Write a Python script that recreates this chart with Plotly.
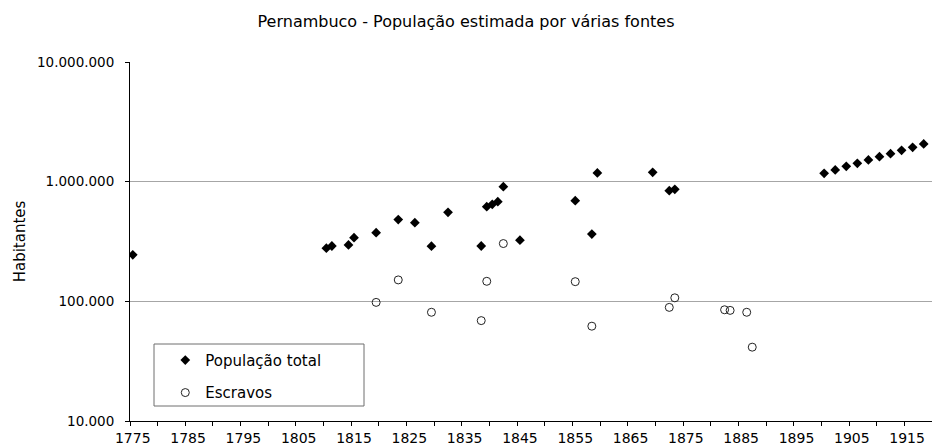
import plotly.graph_objects as go

# Data
pop_years = [1775, 1810, 1811, 1814, 1815, 1819, 1823, 1826, 1829, 1832, 1838, 1839,
             1840, 1841, 1842, 1845, 1855, 1858, 1859, 1869, 1872, 1873,
             1900, 1902, 1904, 1906, 1908, 1910, 1912, 1914, 1916, 1918]
pop_values = [245000, 278000, 290000, 296000, 340000, 375000, 482000, 454000, 289000, 555000,
              290000, 618000, 647000, 681000, 908000, 324000, 693000, 365000, 1182000,
              1198000, 841000, 864000,
              1175000, 1253000, 1345000, 1425000, 1518000, 1618000, 1714000, 1829000,
              1935000, 2065000]

slave_years = [1819, 1823, 1829, 1838, 1839, 1842, 1855, 1858, 1872, 1873, 1882, 1883, 1886, 1887]
slave_values = [98000, 151000, 81000, 69000, 147000, 304000, 146000, 62000, 89000, 107000,
                85000, 84000, 81000, 41400]

x_tick_vals = list(range(1775, 1916, 10))
x_tick_text = [str(v) for v in x_tick_vals]
y_tick_vals = [10000, 100000, 1000000, 10000000]
y_tick_text = ["10.000", "100.000", "1.000.000", "10.000.000"]

FONT = "DejaVu Sans"

fig = go.Figure()
fig.add_trace(go.Scatter(
    x=pop_years, y=pop_values, mode="markers", name="População total",
    legendgroup="a",
    marker=dict(symbol="diamond", size=7.5, color="black", line=dict(width=0)),
))
fig.add_trace(go.Scatter(
    x=slave_years, y=slave_values, mode="markers", name="Escravos",
    legendgroup="b",
    marker=dict(symbol="circle-open", size=8, color="#222222", line=dict(width=1)),
))

fig.update_layout(
    width=932, height=445,
    margin=dict(l=130, r=0, t=62, b=24, autoexpand=False),
    paper_bgcolor="white", plot_bgcolor="white",
    font=dict(family=FONT, color="black", size=14),
    title=dict(text="Pernambuco - População estimada por várias fontes",
               x=0.5, xanchor="center", y=1 - 21 / 445, yanchor="middle",
               font=dict(family=FONT, size=16, color="black")),
    showlegend=True,
    legend=dict(x=0.044, y=0.215, xanchor="left", yanchor="top",
                bgcolor="rgba(0,0,0,0)", borderwidth=0,
                traceorder="grouped", tracegroupgap=10,
                font=dict(family=FONT, size=15, color="black")),
    shapes=[dict(type="rect", xref="paper", yref="paper",
                 x0=(154 - 130) / 802, x1=(364 - 130) / 802,
                 y0=(421 - 406) / 359, y1=(421 - 344) / 359,
                 line=dict(color="#6e6e6e", width=1), fillcolor="rgba(0,0,0,0)")],
)

fig.update_xaxes(
    range=[1774.5, 1919.5], tickmode="array", tickvals=x_tick_vals, ticktext=x_tick_text,
    ticks="", showgrid=False, zeroline=False,
    showline=True, linecolor="black", linewidth=1,
    tickfont=dict(family=FONT, size=14, color="black"),
    ticklabelstandoff=4,
    minor=dict(tick0=1774.5, dtick=5, ticks="outside", ticklen=4,
               tickcolor="black", tickwidth=1, showgrid=False),
    automargin=False,
)
fig.update_yaxes(
    type="log", range=[4, 7], tickmode="array", tickvals=y_tick_vals, ticktext=y_tick_text,
    ticks="outside", ticklen=4, tickcolor="black",
    showgrid=True, gridcolor="#a6a6a6", gridwidth=1, zeroline=False,
    showline=True, linecolor="black", linewidth=1,
    tickfont=dict(family=FONT, size=13.5, color="black"),
    ticklabelstandoff=8,
    title=dict(text="Habitantes", font=dict(family=FONT, size=15, color="black"), standoff=7),
    automargin=False,
)

fig.write_html("out.html", config={"displayModeBar": False},
               post_script="document.body.style.margin='0px';document.body.style.padding='0px';")
